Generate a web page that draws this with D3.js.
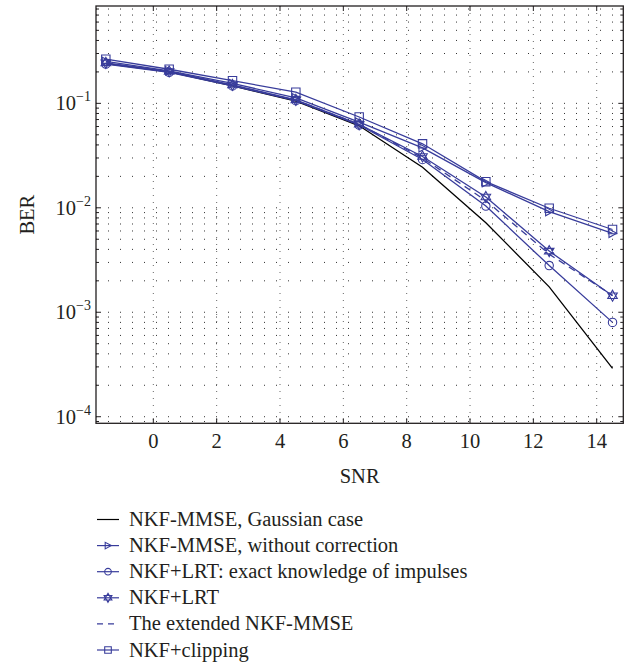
<!DOCTYPE html>
<html>
<head>
<meta charset="utf-8">
<script src="https://cdn.jsdelivr.net/npm/d3@7"></script>
<style>
  body { margin: 0; background: #fff; }
  svg text { font-family: "Liberation Serif", "Times New Roman", serif; fill: #231f20; }
</style>
</head>
<body>
<svg id="chart"></svg>
<script>
// SNR sample points and BER for each curve
const snr = [-1.5, 0.5, 2.5, 4.5, 6.5, 8.5, 10.5, 12.5, 14.5];
const berGauss    = [0.240, 0.200, 0.147, 0.105, 0.061, 0.0245, 0.0072, 0.00175, 0.00029];
const berNoCorr   = [0.252, 0.205, 0.155, 0.113, 0.066, 0.0375, 0.0174, 0.0092, 0.0057];
const berExact    = [0.238, 0.198, 0.147, 0.106, 0.062, 0.0290, 0.0104, 0.0028, 0.00080];
const berLRT      = [0.244, 0.202, 0.150, 0.108, 0.063, 0.0310, 0.0127, 0.00385, 0.00144];
const berExtended = [0.242, 0.201, 0.149, 0.107, 0.063, 0.0300, 0.0117, 0.0036, 0.00145];
const berClip     = [0.265, 0.212, 0.165, 0.128, 0.074, 0.0410, 0.0178, 0.0099, 0.0062];

const seriesNames = [
  'NKF-MMSE, Gaussian case',
  'NKF-MMSE, without correction',
  'NKF+LRT: exact knowledge of impulses',
  'NKF+LRT',
  'The extended NKF-MMSE',
  'NKF+clipping'
];
const xTicks = [0, 2, 4, 6, 8, 10, 12, 14];
const yTickExps = [-1, -2, -3, -4];

const blue = '#383c9b';
const series = [
  {name: seriesNames[0], values: berGauss, color: '#000', dash: null, marker: null},
  {name: seriesNames[1], values: berNoCorr, color: blue, dash: null, marker: 'triRight'},
  {name: seriesNames[2], values: berExact, color: blue, dash: null, marker: 'circle'},
  {name: seriesNames[3], values: berLRT, color: blue, dash: null, marker: 'hexagram'},
  {name: seriesNames[4], values: berExtended, color: blue, dash: '7,5', marker: null},
  {name: seriesNames[5], values: berClip, color: blue, dash: null, marker: 'square'}
];

const width = 630, height = 663;
const plot = {left: 96, right: 623.3, top: 6, bottom: 423.3};
const fontSize = 20.5;

const svg = d3.select('#chart')
    .attr('width', width)
    .attr('height', height);

const x = d3.scaleLinear()
    .domain([-1.81, 14.84])
    .range([plot.left, plot.right]);

const y = d3.scaleLog()
    .domain([Math.pow(10, -4.063), Math.pow(10, -0.068)])
    .range([plot.bottom, plot.top]);

// marker shapes
function markerPath(type, r) {
  if (type === 'triRight') {
    return `M${r},0L${-r * 0.85},${-r}L${-r * 0.85},${r}Z`;
  }
  if (type === 'circle') {
    return d3.arc()({innerRadius: 0, outerRadius: r, startAngle: 0, endAngle: 2 * Math.PI});
  }
  if (type === 'square') {
    return `M${-r},${-r}H${r}V${r}H${-r}Z`;
  }
  if (type === 'hexagram') {
    const up = [0, 1, 2].map(i => [r * Math.sin(i * 2 * Math.PI / 3), -r * Math.cos(i * 2 * Math.PI / 3)]);
    const dn = up.map(p => [p[0], -p[1]]);
    return 'M' + up.join('L') + 'Z' + 'M' + dn.join('L') + 'Z';
  }
  return '';
}

// minor y values for grid/ticks
const yMinor = [];
for (let e = -5; e <= 0; e++) {
  for (let m = 1; m <= 9; m++) {
    const v = m * Math.pow(10, e);
    if (v >= y.domain()[0] && v <= y.domain()[1]) yMinor.push(v);
  }
}

// grid
const grid = svg.append('g').attr('class', 'grid');
grid.selectAll('.hgrid')
    .data(yMinor)
    .join('line')
    .attr('class', 'hgrid')
    .attr('x1', plot.left).attr('x2', plot.right)
    .attr('y1', d => y(d)).attr('y2', d => y(d))
    .attr('stroke', '#333')
    .attr('stroke-width', 1)
    .attr('stroke-dasharray', '1,11');
grid.selectAll('.vgrid')
    .data(xTicks)
    .join('line')
    .attr('class', 'vgrid')
    .attr('x1', d => x(d)).attr('x2', d => x(d))
    .attr('y1', plot.top).attr('y2', plot.bottom)
    .attr('stroke', '#666')
    .attr('stroke-width', 1)
    .attr('stroke-dasharray', '1,6');

// curves
const line = d3.line()
    .x((d, i) => x(snr[i]))
    .y(d => y(d));

const curves = svg.append('g').attr('class', 'curves');
series.forEach(s => {
  curves.append('path')
      .datum(s.values)
      .attr('d', line)
      .attr('fill', 'none')
      .attr('stroke', s.color)
      .attr('stroke-width', 1.3);
  if (s.dash) curves.select('path:last-child').attr('stroke-dasharray', s.dash);
  if (s.marker) {
    const r = s.marker === 'hexagram' ? 5.5 : 4.2;
    curves.selectAll(null)
        .data(s.values)
        .join('path')
        .attr('transform', (d, i) => `translate(${x(snr[i])},${y(d)})`)
        .attr('d', markerPath(s.marker, r))
        .attr('fill', 'none')
        .attr('stroke', s.color)
        .attr('stroke-width', 1.1);
  }
});

// axes box
svg.append('rect')
    .attr('x', plot.left).attr('y', plot.top)
    .attr('width', plot.right - plot.left)
    .attr('height', plot.bottom - plot.top)
    .attr('fill', 'none')
    .attr('stroke', '#231f20')
    .attr('stroke-width', 1.3);

// ticks (inward, on all four sides)
const ticks = svg.append('g').attr('class', 'ticks').attr('stroke', '#231f20').attr('stroke-width', 1);
xTicks.forEach(t => {
  ticks.append('line').attr('x1', x(t)).attr('x2', x(t)).attr('y1', plot.bottom).attr('y2', plot.bottom - 5);
  ticks.append('line').attr('x1', x(t)).attr('x2', x(t)).attr('y1', plot.top).attr('y2', plot.top + 5);
});
yMinor.forEach(v => {
  const major = Math.abs(Math.log10(v) - Math.round(Math.log10(v))) < 1e-9;
  const len = major ? 5 : 3;
  ticks.append('line').attr('x1', plot.left).attr('x2', plot.left + len).attr('y1', y(v)).attr('y2', y(v));
  ticks.append('line').attr('x1', plot.right).attr('x2', plot.right - len).attr('y1', y(v)).attr('y2', y(v));
});

// x tick labels
svg.append('g').selectAll('text')
    .data(xTicks)
    .join('text')
    .attr('x', d => x(d))
    .attr('y', 448)
    .attr('text-anchor', 'middle')
    .attr('font-size', fontSize)
    .text(d => d);

// y tick labels: 10^e
const yl = svg.append('g').selectAll('text')
    .data(yTickExps)
    .join('text')
    .attr('x', 91)
    .attr('y', d => y(Math.pow(10, d)) + 7)
    .attr('text-anchor', 'end')
    .attr('font-size', fontSize);
yl.append('tspan').text('10');
yl.append('tspan')
    .attr('dy', -9)
    .attr('font-size', 14)
    .text(d => '\u2212' + Math.abs(d));

// axis titles
svg.append('text')
    .attr('x', (plot.left + plot.right) / 2)
    .attr('y', 483)
    .attr('text-anchor', 'middle')
    .attr('font-size', fontSize)
    .text('SNR');
svg.append('text')
    .attr('transform', `translate(34,${(plot.top + plot.bottom) / 2}) rotate(-90)`)
    .attr('text-anchor', 'middle')
    .attr('font-size', fontSize)
    .text('BER');

// legend
const legend = svg.append('g').attr('class', 'legend');
series.forEach((s, i) => {
  const by = 526 + i * 26.1;
  const cy = by - 6.5;
  const g = legend.append('g');
  g.append('line')
      .attr('x1', 97).attr('x2', 119)
      .attr('y1', cy).attr('y2', cy)
      .attr('stroke', s.color)
      .attr('stroke-width', 1.2)
      .attr('stroke-dasharray', s.dash ? '6,5' : null);
  if (s.marker) {
    g.append('path')
        .attr('transform', `translate(108,${cy})`)
        .attr('d', markerPath(s.marker, s.marker === 'hexagram' ? 4.5 : 3.3))
        .attr('fill', 'none')
        .attr('stroke', s.color)
        .attr('stroke-width', 1.1);
  }
  g.append('text')
      .attr('x', 129)
      .attr('y', by)
      .attr('font-size', fontSize)
      .text(s.name);
});
</script>
</body>
</html>
